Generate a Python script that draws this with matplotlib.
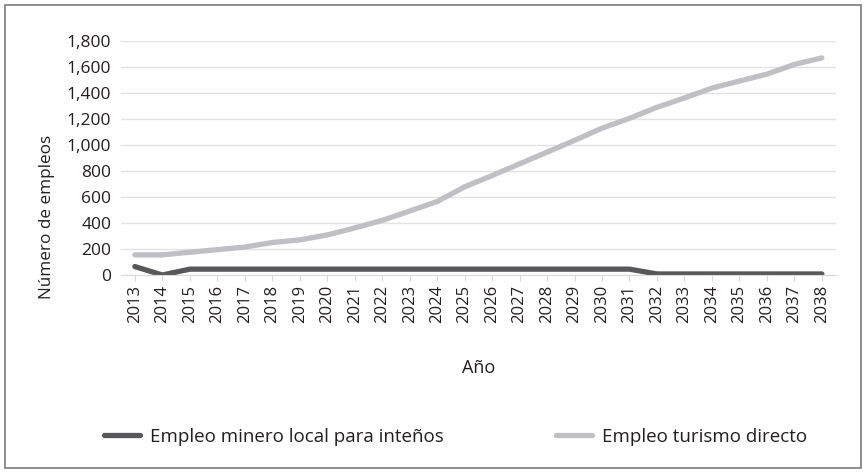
import matplotlib.pyplot as plt
from matplotlib.patches import Rectangle
from matplotlib.ticker import FuncFormatter

plt.rcParams['font.family'] = ['Open Sans', 'DejaVu Sans']

years = list(range(2013, 2039))
minero = [65, 0, 45, 45, 45, 45, 45, 45, 45, 45, 45, 45, 45, 45, 45, 45, 45, 45, 45,
          8, 8, 8, 8, 8, 8, 8]
turismo = [155, 155, 175, 195, 215, 250, 270, 308, 362, 420, 492, 565, 678, 765, 855,
           945, 1035, 1130, 1205, 1290, 1362, 1438, 1492, 1545, 1620, 1670]
labels = ['Empleo minero local para inteños', 'Empleo turismo directo']

fig = plt.figure(figsize=(8.65, 4.73), dpi=100)
ax = fig.add_axes([0.140, 0.4186, 0.826, 0.4947])

ax.plot(years, minero, color='#58585a', lw=3.8, solid_capstyle='round', label=labels[0])
ax.plot(years, turismo, color='#c0c0c4', lw=3.8, solid_capstyle='round', label=labels[1])

ax.set_xlim(2012.5, 2038.5)
ax.set_ylim(0, 1800)
ax.set_yticks(range(0, 1801, 200))
ax.yaxis.set_major_formatter(FuncFormatter(lambda v, p: f'{int(v):,}'))
ax.set_xticks(years)
ax.set_xticklabels([str(y) for y in years], rotation=90)
ax.grid(axis='y', color='#e3e3e3', lw=1)
ax.set_axisbelow(True)
for s in ['top', 'right', 'left']:
    ax.spines[s].set_visible(False)
ax.spines['bottom'].set_color('#d9d9d9')
ax.tick_params(axis='y', length=0, labelsize=12.5, pad=7, colors='#231f20')
ax.tick_params(axis='x', length=4, color='#d9d9d9', labelsize=12, pad=3, labelcolor='#231f20')

ax.set_ylabel('Número de empleos', fontsize=12.3, color='#231f20')
ax.yaxis.set_label_coords(-0.093, 0.25)
ax.set_xlabel('Año', fontsize=13, color='#231f20', labelpad=26)

fig.legend(loc='center', bbox_to_anchor=(0.527, 1 - 437 / 473), ncol=2, frameon=False,
           fontsize=13.5, handlelength=1.9, columnspacing=6.0, handletextpad=0.55,
           labelcolor='#231f20')

fig.add_artist(Rectangle((5 / 865, 5 / 473), 856 / 865, 463 / 473, transform=fig.transFigure,
                         fill=False, edgecolor='#7a7a7a', lw=1.2))

fig.savefig('out.png', dpi=100)
